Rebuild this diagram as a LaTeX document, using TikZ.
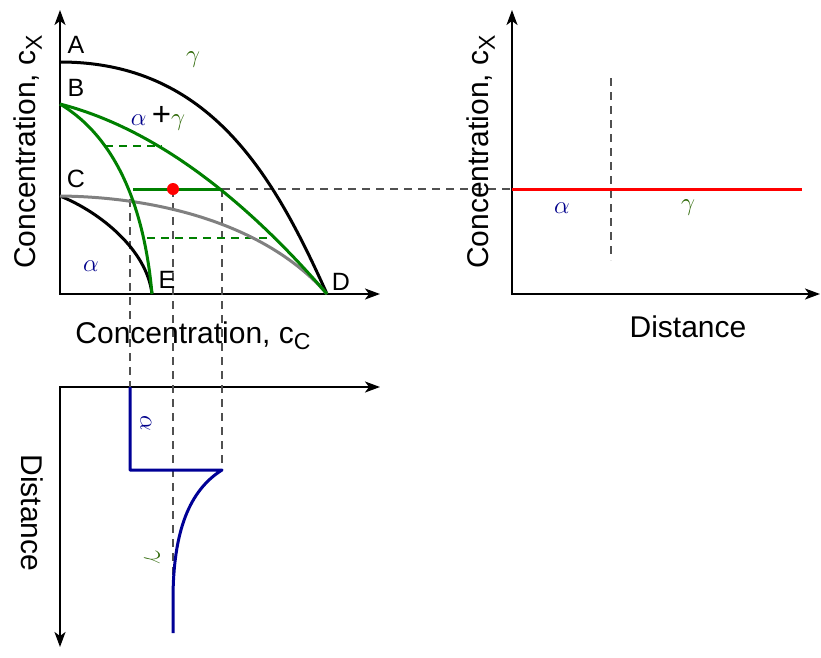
\documentclass[tikz,border=0pt]{standalone}
\usepackage{fontspec}
\setmainfont{Liberation Sans}
\usetikzlibrary{arrows.meta}

\definecolor{phasegreen}{RGB}{0,128,0}
\definecolor{gammagreen}{RGB}{40,100,0}
\definecolor{alphablue}{RGB}{0,0,139}
\definecolor{profblue}{RGB}{0,0,150}
\definecolor{curvegray}{RGB}{128,128,128}
\definecolor{guidegray}{RGB}{80,80,80}

\begin{document}
\begin{tikzpicture}[
    x=1pt, y=-1pt,
    axis/.style={
        line width=1.8pt,
        {Stealth[length=15pt, width=11pt, inset=4pt]}-{Stealth[length=15pt, width=11pt, inset=4pt]}
    },
    curve/.style={
        line width=3pt,
        line join=round
    },
    guide/.style={
        line width=1.6pt,
        guidegray,
        dash pattern=on 8pt off 6pt
    },
    tieline/.style={
        line width=1.8pt,
        phasegreen,
        dash pattern=on 8pt off 6pt
    },
    txt/.style={
        font=\fontsize{30}{32}\selectfont,
        inner sep=0pt
    },
    pointlab/.style={
        font=\fontsize{25}{27}\selectfont,
        inner sep=0pt
    },
    greek/.style={
        font=\fontsize{33}{35}\selectfont,
        inner sep=0pt
    }
]

\useasboundingbox (0,0) rectangle (821,657);

\coordinate (A) at (60,62);
\coordinate (B) at (60,104);
\coordinate (C) at (60,196);
\coordinate (D) at (327,294);
\coordinate (E) at (152,294);
\coordinate (tieL) at (133,189);
\coordinate (tieR) at (222,189);
\coordinate (mix) at (173,189);

\draw[axis] (60,10) -- (60,294) -- (380,294);
\draw[axis] (512,10) -- (512,294) -- (820,294);
\draw[axis] (380,387) -- (60,387) -- (60,647);

\draw[guide] (tieR) -- (512,189);
\draw[guide] (130,199) -- (130,387);
\draw[guide] (mix) -- (173,600);
\draw[guide] (tieR) -- (222,470);
\draw[guide] (611,78) -- (611,260);

\draw[tieline] (105,146) -- (162,146);
\draw[tieline] (147,238) -- (275,238);

\draw[curve] (A) .. controls (210,62) and (274,176) .. (D);
\draw[curve] (C) .. controls (100,212) and (147,250) .. (E);
\draw[curve, curvegray] (C) .. controls (160,197) and (267,225) .. (D);
\draw[curve, phasegreen] (B) .. controls (149,127) and (238,191) .. (D);
\draw[curve, phasegreen] (B) .. controls (120,140) and (145,215) .. (E);
\draw[curve, phasegreen] (tieL) -- (tieR);
\fill[red] (mix) circle[radius=6];

\draw[curve, red] (512,189) -- (802,189);

\draw[curve, profblue] (130,387) -- (130,470) -- (222,470)
    .. controls (190,490) and (173,530) .. (173,600) -- (173,633);

\node[pointlab] (labA) at (76,45) {A};
\node[pointlab] (labB) at (76,88) {B};
\node[pointlab] (labC) at (76,179) {C};
\node[pointlab] (labD) at (341,282) {D};
\node[pointlab] (labE) at (167,280) {E};

\node[greek, gammagreen] (gtop) at (193,60) {$\gamma$};
\node[greek] (twophase) at (158,118)
    {\textcolor{alphablue}{$\alpha$}\,+\textcolor{gammagreen}{$\gamma$}};
\node[greek, alphablue] (aleft) at (91,266) {$\alpha$};
\node[greek, alphablue] (aright) at (562,208) {$\alpha$};
\node[greek, gammagreen] (gright) at (688,208) {$\gamma$};
\node[greek, alphablue, rotate=-90] (abot) at (146,423) {$\alpha$};
\node[greek, gammagreen, rotate=-90] (gbot) at (152,557) {$\gamma$};

\node[txt, rotate=90] (ylabL) at (28,152)
    {Concentration, c\raisebox{-6pt}{\fontsize{23}{23}\selectfont X}};
\node[txt, rotate=90] (ylabR) at (481,152)
    {Concentration, c\raisebox{-6pt}{\fontsize{23}{23}\selectfont X}};
\node[txt] (xlabL) at (193,336)
    {Concentration, c\raisebox{-6pt}{\fontsize{23}{23}\selectfont C}};
\node[txt] (xlabR) at (688,327) {Distance};
\node[txt, rotate=-90] (ylabB) at (32,513) {Distance};

\end{tikzpicture}
\end{document}
